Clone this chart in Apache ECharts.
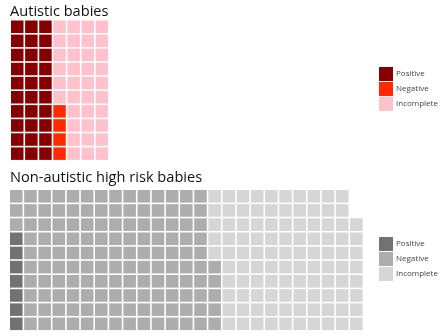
<!DOCTYPE html>
<html>
<head>
<meta charset="utf-8">
<script src="https://cdn.jsdelivr.net/npm/echarts@6/dist/echarts.min.js"></script>
<style>
  html, body { margin: 0; padding: 0; background: #fff; }
  #chart { width: 445px; height: 336px; }
</style>
</head>
<body>
<div id="chart"></div>
<script>
// Outcome categories and number of babies in each group
const categories = ['Positive', 'Negative', 'Incomplete'];
const autisticCounts = [30, 4, 36];
const nonAutisticCounts = [7, 138, 103];

const autisticColors = ['#870000', '#ff2a00', '#ffc2cc'];
const nonAutisticColors = ['#727272', '#adadad', '#d6d6d6'];

const ROWS = 10; // cells per column, filled bottom to top, column by column

// Turn category counts into waffle cells [column, row]
function waffleCells(counts) {
  const out = [];
  let idx = 0;
  counts.forEach(function (n) {
    const cells = [];
    for (let k = 0; k < n; k++, idx++) {
      cells.push([Math.floor(idx / ROWS), idx % ROWS]);
    }
    out.push(cells);
  });
  return out;
}

const GAP = 1.6;
function renderCell(params, api) {
  const tl = api.coord([api.value(0), api.value(1) + 1]);
  const size = api.size([1, 1]);
  return {
    type: 'rect',
    shape: { x: tl[0], y: tl[1], width: size[0] - GAP, height: size[1] - GAP },
    style: { fill: api.visual('color') }
  };
}

function buildSeries(prefix, counts, colors, gridIndex) {
  const cells = waffleCells(counts);
  return categories.map(function (c, i) {
    return {
      type: 'custom',
      name: prefix + '|' + c,
      xAxisIndex: gridIndex,
      yAxisIndex: gridIndex,
      itemStyle: { color: colors[i] },
      renderItem: renderCell,
      encode: { x: 0, y: 1 },
      data: cells[i]
    };
  });
}

const topCols = Math.ceil(autisticCounts.reduce((a, b) => a + b, 0) / ROWS);
const botCols = Math.ceil(nonAutisticCounts.reduce((a, b) => a + b, 0) / ROWS);

const hiddenAxis = { type: 'value', show: false, min: 0 };
const legendBase = {
  orient: 'vertical',
  icon: 'rect',
  itemWidth: 14,
  itemHeight: 14,
  itemGap: 1,
  selectedMode: false,
  formatter: function (name) { return name.split('|')[1]; },
  textStyle: { fontFamily: 'Open Sans', fontSize: 8, color: '#444', padding: [0, 0, 0, -2] }
};
const titleStyle = { fontFamily: 'Open Sans', fontSize: 14.6, fontWeight: 'normal', color: '#111' };

const chart = echarts.init(document.getElementById('chart'), null, { renderer: 'canvas' });
chart.setOption({
  animation: false,
  backgroundColor: '#fff',
  title: [
    { text: 'Autistic babies', left: 5, top: -1, textStyle: titleStyle },
    { text: 'Non-autistic high risk babies', left: 5, top: 165, textStyle: titleStyle }
  ],
  grid: [
    { left: 11, top: 20.5, width: topCols * 14.1, height: ROWS * 14.1 },
    { left: 10, top: 190, width: botCols * 14.17, height: ROWS * 14.17 }
  ],
  xAxis: [
    Object.assign({}, hiddenAxis, { gridIndex: 0, max: topCols }),
    Object.assign({}, hiddenAxis, { gridIndex: 1, max: botCols })
  ],
  yAxis: [
    Object.assign({}, hiddenAxis, { gridIndex: 0, max: ROWS }),
    Object.assign({}, hiddenAxis, { gridIndex: 1, max: ROWS })
  ],
  legend: [
    Object.assign({}, legendBase, { left: 374, top: 62,
      data: categories.map(c => 'a|' + c) }),
    Object.assign({}, legendBase, { left: 374, top: 232,
      data: categories.map(c => 'b|' + c) })
  ],
  series: buildSeries('a', autisticCounts, autisticColors, 0)
    .concat(buildSeries('b', nonAutisticCounts, nonAutisticColors, 1))
});
</script>
</body>
</html>
